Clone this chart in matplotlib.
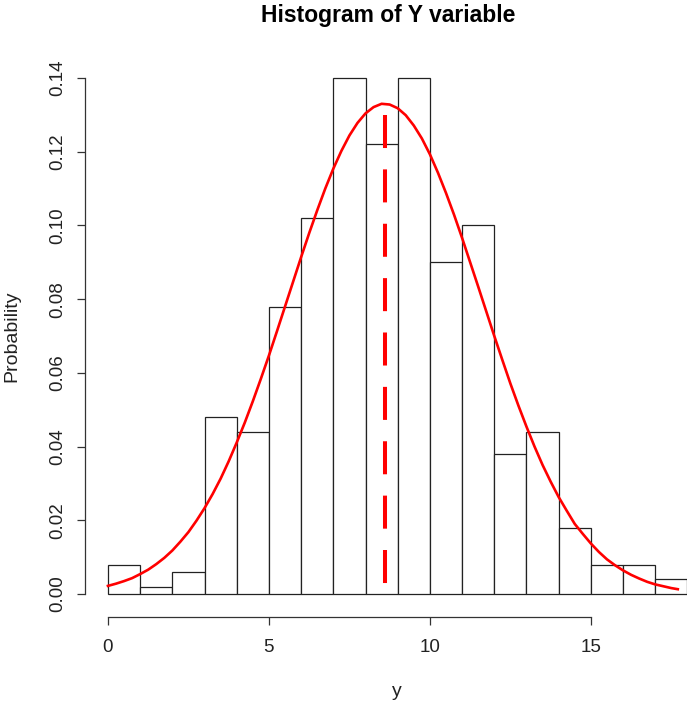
import matplotlib
matplotlib.use("Agg")
import matplotlib.pyplot as plt
import numpy as np

plt.rcParams['font.family'] = ['Liberation Sans', 'DejaVu Sans']

# histogram: bin edges and probability per bin
bin_edges = [0, 1, 2, 3, 4, 5, 6, 7, 8, 9, 10, 11, 12, 13, 14, 15, 16, 17, 18]
probs = [0.008, 0.002, 0.006, 0.048, 0.044, 0.078, 0.102, 0.140, 0.122,
         0.140, 0.090, 0.100, 0.038, 0.044, 0.018, 0.008, 0.008, 0.004]

# fitted density curve
curve_x = [0, 0.25, 0.5, 0.75, 1, 1.25, 1.5, 1.75, 2, 2.25, 2.5, 2.75,
           3, 3.25, 3.5, 3.75, 4, 4.25, 4.5, 4.75, 5, 5.25, 5.5, 5.75,
           6, 6.25, 6.5, 6.75, 7, 7.25, 7.5, 7.75, 8, 8.25, 8.5, 8.75,
           9, 9.25, 9.5, 9.75, 10, 10.25, 10.5, 10.75, 11, 11.25, 11.5, 11.75,
           12, 12.25, 12.5, 12.75, 13, 13.25, 13.5, 13.75, 14, 14.25, 14.5,
           14.75, 15, 15.25, 15.5, 15.75, 16, 16.25, 16.5, 16.75, 17, 17.25,
           17.5, 17.7]
curve_y = [0.0022, 0.0028, 0.0035, 0.0043, 0.0054, 0.0066, 0.0081, 0.0098,
           0.0118, 0.0142, 0.0168, 0.0199, 0.0233, 0.0271, 0.0313, 0.0360,
           0.0411, 0.0465, 0.0523, 0.0584, 0.0647, 0.0713, 0.0780, 0.0847,
           0.0914, 0.0979, 0.1041, 0.1100, 0.1154, 0.1202, 0.1244, 0.1278,
           0.1304, 0.1321, 0.1330, 0.1328, 0.1318, 0.1299, 0.1271, 0.1236,
           0.1193, 0.1143, 0.1088, 0.1029, 0.0966, 0.0900, 0.0834, 0.0767,
           0.0700, 0.0635, 0.0571, 0.0511, 0.0454, 0.0400, 0.0350, 0.0305,
           0.0263, 0.0226, 0.0190, 0.0163, 0.0137, 0.0114, 0.0094, 0.0078,
           0.0064, 0.0052, 0.0042, 0.0033, 0.0026, 0.0021, 0.0016, 0.0013]

# mean marker (drawn top to bottom)
mean_x = 8.6
mean_y = [0.130, 0.0027]

x_ticks = [0, 5, 10, 15]
y_ticks = [0.00, 0.02, 0.04, 0.06, 0.08, 0.10, 0.12, 0.14]

fig = plt.figure(figsize=(6.87, 7.09), dpi=100)
ax = fig.add_axes([0.1234, 0.1331, 0.911, 0.786])

widths = np.diff(bin_edges)
ax.bar(bin_edges[:-1], probs, width=widths, align='edge',
       facecolor='white', edgecolor='#222222', linewidth=0.9)

ax.plot(curve_x, curve_y, color='red', linewidth=1.9)
ax.plot([mean_x, mean_x], mean_y, color='red', linewidth=2.9,
        dashes=(8.2, 5.3))

ax.set_xlim(-0.72, 18.72)
ax.set_ylim(-0.0056, 0.1456)

for s in ['top', 'right']:
    ax.spines[s].set_visible(False)
ax.spines['left'].set_bounds(0, 0.14)
ax.spines['bottom'].set_bounds(0, 15)
ax.spines['bottom'].set_position(('outward', 2))
for s in ['left', 'bottom']:
    ax.spines[s].set_color('#333333')
    ax.spines[s].set_linewidth(0.9)

ax.set_xticks(x_ticks)
ax.set_xticklabels([str(t) for t in x_ticks])
ax.set_yticks(y_ticks)
ax.set_yticklabels(['%.2f' % t for t in y_ticks], rotation=90, va='center')
ax.tick_params(axis='both', length=5.5, width=0.9, color='#333333',
               labelsize=13.5, labelcolor='#222222')
ax.tick_params(axis='x', pad=10)
ax.tick_params(axis='y', pad=8)

fig.text(0.5655, 0.978, 'Histogram of Y variable', ha='center', va='center',
         fontsize=16.5, fontweight='bold')
fig.text(0.577, 0.025, 'y', ha='center', va='center', fontsize=14,
         color='#222222')
fig.text(0.018, 0.526, 'Probability', ha='center', va='center',
         rotation=90, fontsize=14, color='#222222')

fig.savefig('out.png', dpi=100)
